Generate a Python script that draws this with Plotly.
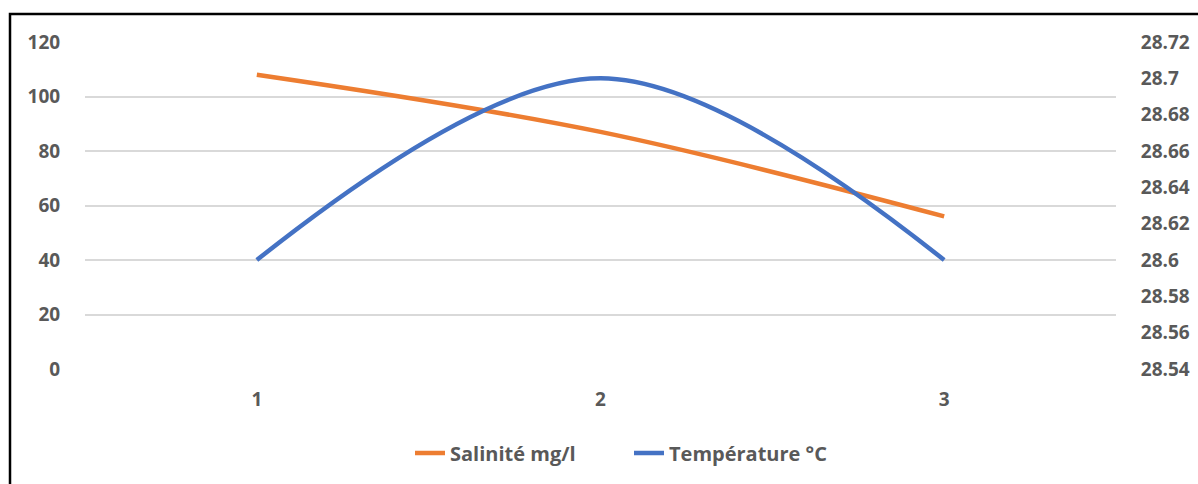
import plotly.graph_objects as go

categories = ["1", "2", "3"]
salinite = [108, 87, 56]
temperature = [28.6, 28.7, 28.6]
left_ticks = [0, 20, 40, 60, 80, 100, 120]
right_ticks = [28.54, 28.56, 28.58, 28.6, 28.62, 28.64, 28.66, 28.68, 28.7, 28.72]
right_labels = ["28.54", "28.56", "28.58", "28.6", "28.62", "28.64", "28.66", "28.68", "28.7", "28.72"]

W, H = 1198, 484
L, R, T, B = 85, 82, 42, 115
pw, ph = W - L - R, H - T - B

font = dict(family="Open Sans, Liberation Sans, sans-serif", size=19, color="#595959")

fig = go.Figure()
fig.add_trace(go.Scatter(x=categories, y=salinite, name="<b>Salinité mg/l</b>", mode="lines",
                         line=dict(color="#ED7D31", width=4.5, shape="spline", smoothing=1), yaxis="y"))
fig.add_trace(go.Scatter(x=categories, y=temperature, name="<b>Température °C</b>", mode="lines",
                         line=dict(color="#4472C4", width=4.5, shape="spline", smoothing=1.0), yaxis="y2"))

def px_x(x):
    return (x - L) / pw

def px_y(y):
    return 1 - (y - T) / ph

fig.update_layout(
    width=W, height=H,
    margin=dict(l=L, r=R, t=T, b=B, autoexpand=False),
    paper_bgcolor="white", plot_bgcolor="white",
    font=font,
    showlegend=True,
    legend=dict(orientation="h", x=px_x(410), xanchor="left", y=px_y(453), yanchor="middle",
                font=dict(size=20, color="#595959"), entrywidth=174, entrywidthmode="pixels",
                tracegroupgap=0),
    xaxis=dict(type="category", range=[-0.5, 2.5], showgrid=False, zeroline=False, automargin=False,
               showline=False, ticks="outside", ticklen=13, tickcolor="rgba(0,0,0,0)",
               tickfont=dict(size=19, color="#595959"), tickprefix="<b>", ticksuffix="</b>"),
    yaxis=dict(range=[0, 120], tickvals=left_ticks, ticktext=[f"<b>{v}</b>" for v in left_ticks],
               showgrid=True, gridcolor="#D9D9D9", gridwidth=1.5, zeroline=False, showline=False,
               automargin=False, ticks="outside", ticklen=20, tickcolor="rgba(0,0,0,0)"),
    yaxis2=dict(range=[28.54, 28.72], overlaying="y", side="right", tickvals=right_ticks,
                ticktext=[f"<b>{t}</b>" for t in right_labels], showgrid=False, zeroline=False,
                automargin=False, showline=False, ticks="outside", ticklen=20,
                tickcolor="rgba(0,0,0,0)"),
    shapes=[dict(type="rect", xref="paper", yref="paper",
                 x0=px_x(10), x1=px_x(1210), y0=px_y(500), y1=px_y(14),
                 line=dict(color="black", width=2.5), fillcolor="rgba(0,0,0,0)", layer="above")],
)

fig.write_html("out.html")
